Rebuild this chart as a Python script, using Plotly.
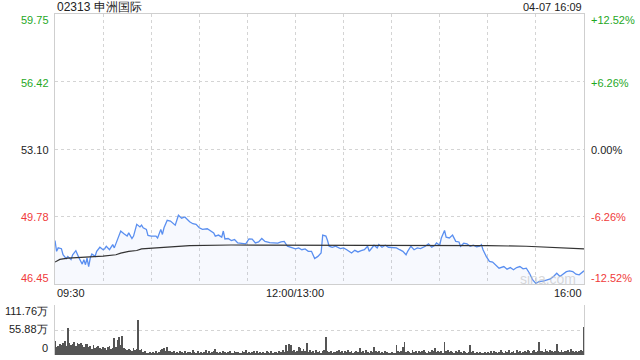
import plotly.graph_objects as go

# ---- data ----
title_text = "02313 申洲国际"
date_text = "04-07 16:09"
prev_close = 53.10
price_ticks = [46.45, 49.78, 53.10, 56.42, 59.75]
price_labels = ["46.45", "49.78", "53.10", "56.42", "59.75"]
pct_labels = ["-12.52%", "-6.26%", "0.00%", "+6.26%", "+12.52%"]
vol_ticks = [0, 55.88, 111.76]
vol_labels = ["0", "55.88万", "111.76万"]
time_ticks = [0, 150, 330]
time_labels = ["09:30", "12:00/13:00", "16:00"]

price_min = [0, 1, 2, 4, 5, 7, 8, 10, 11, 13, 15, 17, 18, 19, 20, 21, 22, 23, 25, 26, 28, 30, 31, 32, 34, 36, 37, 38,
             40, 41, 43, 45, 46, 48, 49, 51, 53, 54, 55, 57, 58, 60, 63, 64, 66, 67, 68, 70, 72, 74, 75, 77, 79, 81,
             83, 84, 86, 88, 90, 92, 95, 97, 99, 100, 102, 104, 105, 106, 108, 110, 112, 114, 117, 119, 121, 123, 125,
             127, 129, 131, 134, 137, 139, 141, 143, 145, 148, 150, 152, 154, 156, 158, 160, 162, 164, 166, 167, 169,
             170, 171, 173, 175, 178, 180, 182, 184, 185, 187, 189, 191, 193, 195, 196, 198, 199, 201, 202, 204, 206,
             208, 211, 213, 215, 217, 219, 220, 222, 224, 226, 228, 231, 233, 235, 237, 238, 240, 241, 243, 244, 246,
             248, 250, 252, 253, 255, 257, 259, 261, 263, 265, 266, 267, 269, 271, 273, 275, 277, 280, 282, 284, 286,
             288, 290, 292, 294, 296, 298, 300, 302, 305, 307, 309, 311, 313, 315, 317, 319, 321, 323, 325, 327, 330]
price_val = [48.59, 48.06, 48.23, 48.19, 47.89, 47.70, 47.81, 47.65, 47.89, 48.09, 47.73, 47.43, 47.65, 47.40, 47.73,
             47.31, 47.73, 47.93, 47.81, 48.06, 48.26, 48.14, 48.19, 48.31, 48.14, 48.39, 48.23, 48.43, 48.81, 49.06,
             48.92, 48.81, 48.97, 48.69, 48.81, 49.39, 49.26, 49.35, 49.22, 49.14, 48.84, 48.81, 48.81, 48.72, 49.14,
             48.89, 49.22, 49.59, 49.55, 49.39, 49.35, 49.84, 49.69, 49.75, 49.59, 49.52, 49.42, 49.39, 49.22, 49.14,
             49.17, 49.06, 48.97, 48.81, 48.86, 48.76, 49.06, 48.67, 48.69, 48.59, 48.64, 48.47, 48.43, 48.43, 48.67,
             48.66, 48.47, 48.52, 48.69, 48.55, 48.49, 48.49, 48.46, 48.52, 48.55, 48.31, 48.23, 48.18, 48.23, 48.14,
             48.18, 48.06, 48.06, 47.70, 47.81, 47.98, 48.86, 48.81, 48.59, 48.31, 48.26, 48.31, 48.19, 48.23, 48.14,
             48.06, 47.98, 48.11, 48.03, 48.09, 48.14, 48.31, 48.06, 48.26, 48.36, 48.23, 48.39, 48.26, 48.36, 48.26,
             48.26, 48.23, 48.14, 48.06, 47.89, 48.06, 48.31, 48.14, 48.23, 48.19, 48.31, 48.43, 48.26, 48.36, 48.47,
             48.36, 48.72, 49.09, 48.76, 48.72, 48.86, 48.55, 48.52, 48.31, 48.46, 48.43, 48.31, 48.36, 48.28, 48.31,
             48.39, 48.14, 47.81, 47.56, 47.53, 47.36, 47.23, 47.31, 47.18, 47.26, 47.15, 47.26, 47.31, 47.20, 47.23,
             46.98, 46.65, 46.48, 46.57, 46.60, 46.65, 46.70, 46.82, 46.98, 46.82, 46.93, 47.06, 47.10, 47.06, 46.93,
             46.90, 47.10]

avg_min = [0, 3, 8, 19, 30, 38, 41, 46, 51, 54, 70, 84, 110, 170, 250, 270, 294, 330]
avg_val = [47.53, 47.66, 47.72, 47.76, 47.82, 47.89, 47.97, 48.06, 48.10, 48.18, 48.26, 48.34, 48.37, 48.37, 48.36,
           48.34, 48.31, 48.18]

volume = [31, 18, 20, 25, 22, 27, 31, 20, 60, 27,
          22, 25, 29, 20, 27, 24, 26, 22, 18, 25,
          24, 18, 20, 13, 22, 15, 18, 20, 16, 13,
          18, 15, 11, 17, 20, 14, 16, 38, 18, 33,
          40, 22, 42, 15, 13, 11, 14, 12, 9, 15,
          11, 13, 78, 12, 14, 6, 9, 5, 4, 7,
          5, 6, 4, 8, 5, 7, 11, 13, 16, 9,
          17, 10, 8, 6, 9, 5, 7, 4, 8, 6,
          5, 9, 4, 6, 7, 5, 11, 6, 4, 8,
          5, 7, 4, 6, 12, 5, 8, 4, 6, 9,
          14, 6, 4, 7, 5, 9, 6, 4, 7, 8,
          5, 4, 9, 6, 7, 5, 4, 8, 6, 11,
          5, 7, 4, 6, 8, 5, 9, 4, 6, 5,
          7, 4, 8, 6, 5, 9, 4, 6, 7, 5,
          9, 6, 11, 7, 22, 10, 24, 23, 8, 12,
          6, 10, 19, 16, 8, 14, 9, 27, 7, 12,
          6, 9, 5, 11, 7, 9, 5, 8, 12, 40,
          9, 6, 8, 5, 7, 6, 9, 11, 6, 8,
          5, 9, 7, 11, 6, 8, 5, 7, 10, 6,
          15, 6, 8, 5, 11, 7, 4, 9, 6, 17,
          8, 6, 10, 5, 7, 4, 9, 6, 5, 4,
          7, 5, 4, 22, 9, 6, 8, 18, 29, 7,
          9, 6, 5, 11, 7, 8, 5, 10, 6, 8,
          12, 7, 5, 9, 6, 11, 8, 16, 6, 9,
          7, 10, 5, 29, 8, 11, 6, 9, 7, 5,
          8, 6, 11, 7, 5, 9, 6, 4, 7, 22,
          6, 9, 5, 7, 4, 6, 3, 5, 7, 4,
          6, 5, 8, 4, 9, 6, 5, 7, 11, 6,
          4, 8, 6, 12, 5, 7, 9, 4, 11, 6,
          8, 5, 7, 10, 6, 12, 8, 5, 9, 11,
          7, 9, 29, 10, 8, 6, 14, 9, 7, 11,
          8, 6, 10, 25, 9, 7, 12, 6, 9, 8,
          11, 7, 14, 8, 6, 10, 7, 9, 12, 8,
          63]
vol_min = list(range(len(volume)))

# ---- layout helpers (pixel -> paper) ----
W, H = 640, 360
def px(x):
    return x / W
def py(y):
    return 1 - y / H

L, R = 55, 584
MAIN_T, MAIN_B = 14, 284
VOL_T, VOL_B = 305, 355

GREEN = "#1fa81f"
RED = "#f03a3a"
FONT = "Arial, Liberation Sans, sans-serif"

fig = go.Figure()

fig.add_trace(go.Scatter(x=price_min, y=price_val, mode="lines",
                         line=dict(color="#5a8ff0", width=1.3),
                         fill="tozeroy", fillcolor="rgba(90,140,240,0.05)",
                         xaxis="x", yaxis="y", hoverinfo="skip"))
fig.add_trace(go.Scatter(x=avg_min, y=avg_val, mode="lines",
                         line=dict(color="#333333", width=1.2),
                         xaxis="x", yaxis="y", hoverinfo="skip"))
fig.add_trace(go.Bar(x=vol_min, y=volume, width=0.55, marker=dict(color="#555555", line=dict(width=0)),
                     xaxis="x2", yaxis="y2", hoverinfo="skip"))

grid = dict(showgrid=True, gridcolor="#d4d4d4", griddash="dot", gridwidth=1)

fig.update_layout(
    width=W, height=H, margin=dict(l=0, r=0, t=0, b=0),
    paper_bgcolor="white", plot_bgcolor="white", showlegend=False,
    bargap=0,
    xaxis=dict(domain=[px(L), px(R)], range=[0, 330], tickvals=list(range(0, 331, 30)),
               showticklabels=False, ticks="", zeroline=False,
               showline=True, linecolor="#cfcfcf", mirror=True, **grid),
    yaxis=dict(domain=[py(MAIN_B), py(MAIN_T)], range=[price_ticks[0], price_ticks[-1]],
               tickvals=price_ticks[1:-1], showticklabels=False, ticks="", zeroline=False,
               showline=True, linecolor="#cfcfcf", mirror=True, **grid),
    xaxis2=dict(domain=[px(L), px(R)], range=[0, 330], showticklabels=False, ticks="",
                showgrid=False, zeroline=False, showline=False, anchor="y2"),
    yaxis2=dict(domain=[py(VOL_B), py(VOL_T)], range=[0, vol_ticks[-1]], tickvals=vol_ticks[1:],
                showticklabels=False, ticks="", zeroline=False,
                showline=True, linecolor="#cfcfcf", mirror=True, anchor="x2", **grid),
)

ann = []
def text(x, y, s, color="#222", xanchor="left", size=11):
    ann.append(dict(x=px(x), y=py(y), xref="paper", yref="paper", text=s, showarrow=False,
                    xanchor=xanchor, yanchor="middle", font=dict(family=FONT, size=size, color=color)))

text(L, 7, title_text, "#222", "left", 12)
text(R, 7, date_text, "#222", "right", 11)

label_y = [278, 217, 150, 83, 20]
for i, (pl, pc) in enumerate(zip(price_labels, pct_labels)):
    v = price_ticks[i]
    col = GREEN if v > prev_close else (RED if v < prev_close else "#222")
    text(51, label_y[i], pl, col, "right")
    text(589, label_y[i], pc, col, "left")

text(L, 293, time_labels[0], "#222", "left")
text(295, 293, time_labels[1], "#222", "center")
text(R, 293, time_labels[2], "#222", "right")

vol_label_y = [348, 329, 311]
for vy, vl in zip(vol_label_y, vol_labels):
    text(50, vy, vl, "#222", "right")

ann.append(dict(x=px(548), y=py(279), xref="paper", yref="paper", text="sina.com", showarrow=False,
                xanchor="center", yanchor="middle", font=dict(family=FONT, size=14, color="rgba(190,190,190,0.6)")))

fig.update_layout(annotations=ann)
fig.write_html("out.html")
